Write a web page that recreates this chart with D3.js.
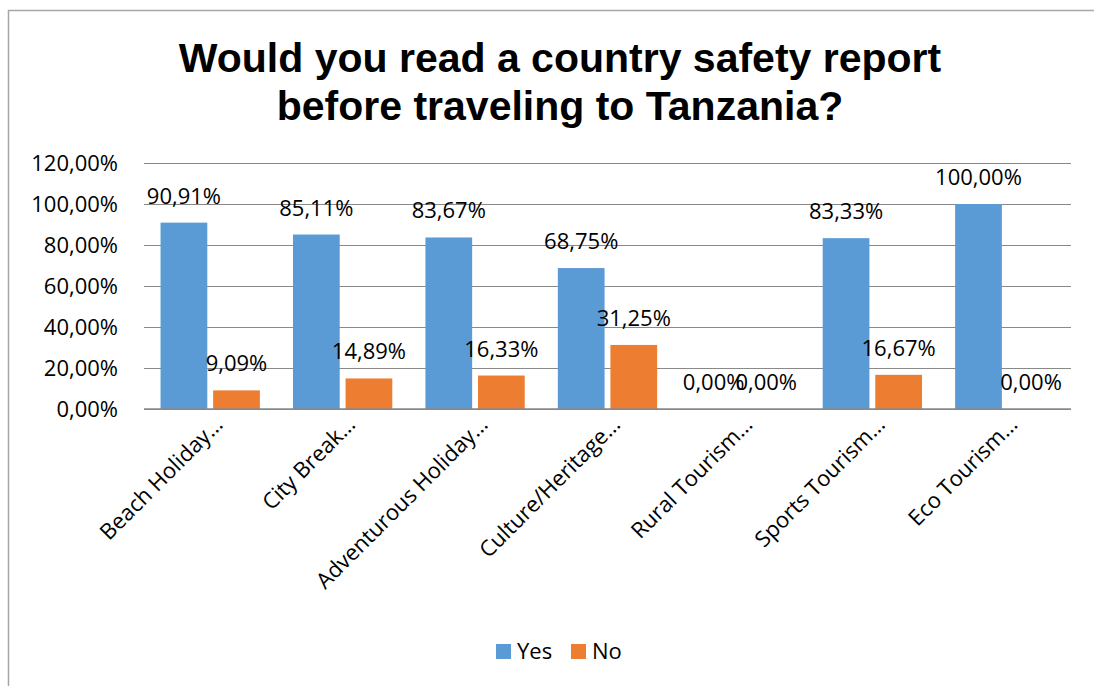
<!DOCTYPE html>
<html>
<head>
<meta charset="utf-8">
<script src="https://cdn.jsdelivr.net/npm/d3@7"></script>
<style>
    body { margin: 0; background: #fff; overflow: hidden; }
    svg { display: block; }
    text { font-family: "Open Sans", "Noto Sans", sans-serif; fill: #000; }
</style>
</head>
<body>
<div id="chart"></div>
<script>
// Data
const categories = ["Beach Holiday…", "City Break…", "Adventurous Holiday…", "Culture/Heritage…",
                    "Rural Tourism…", "Sports Tourism…", "Eco Tourism…"];
const seriesNames = ["Yes", "No"];
const yesValues = [90.91, 85.11, 83.67, 68.75, 0, 83.33, 100];
const noValues = [9.09, 14.89, 16.33, 31.25, 0, 16.67, 0];
const yTicks = [0, 20, 40, 60, 80, 100, 120];
const titleLines = ["Would you read a country safety report", "before traveling to Tanzania?"];

const colors = { Yes: "#5b9bd5", No: "#ed7d31" };
const fmt = v => v.toFixed(2).replace(".", ",") + "%";

const W = 1094, H = 686;
const plot = { left: 144, right: 1071, top: 163, bottom: 409 };

const svg = d3.select("#chart").append("svg")
    .attr("width", W)
    .attr("height", H);

// Chart frame: only top and left edges are visible in the reference
svg.append("path")
    .attr("d", `M8.5,${H}V10.5H${W}`)
    .attr("fill", "none")
    .attr("stroke", "#a6a6a6")
    .attr("stroke-width", 1.5);

// Title
svg.append("text")
    .attr("text-anchor", "middle")
    .style("font-family", "'Liberation Sans', Arial, sans-serif")
    .style("font-weight", "bold")
    .style("font-size", "41px")
    .selectAll("tspan")
    .data(titleLines)
    .join("tspan")
    .attr("x", 560)
    .attr("y", (d, i) => 72 + i * 48)
    .text(d => d);

// Scales
const x0 = d3.scaleBand()
    .domain(categories)
    .range([plot.left, plot.right])
    .paddingInner(0.75 / 3)
    .paddingOuter(0.75 / 6);

const x1 = d3.scaleBand()
    .domain(seriesNames)
    .range([0, x0.bandwidth()])
    .paddingInner(0.25 / 2.25);

const y = d3.scaleLinear()
    .domain([0, 120])
    .range([plot.bottom, plot.top]);

// Gridlines + y labels
const yAxis = svg.append("g")
    .attr("transform", `translate(${plot.left},0)`)
    .call(d3.axisLeft(y).tickValues(yTicks).tickFormat(fmt).tickSize(-(plot.right - plot.left)).tickPadding(26));
yAxis.select(".domain").remove();
yAxis.selectAll(".tick line").attr("stroke", "#898989").attr("stroke-width", 1.2);
yAxis.selectAll(".tick text")
    .style("font-size", "22px")
    .attr("fill", "#000");

// Bars
const groups = svg.append("g")
    .selectAll("g")
    .data(categories.map((c, i) => ({ cat: c, vals: [
        { key: "Yes", value: yesValues[i] },
        { key: "No", value: noValues[i] }
    ] })))
    .join("g")
    .attr("transform", d => `translate(${x0(d.cat)},0)`);

groups.selectAll("rect")
    .data(d => d.vals)
    .join("rect")
    .attr("x", d => x1(d.key))
    .attr("y", d => y(d.value))
    .attr("width", x1.bandwidth())
    .attr("height", d => y(0) - y(d.value))
    .attr("fill", d => colors[d.key]);

// Data labels (the two 0,00% labels overlap in the reference too)
groups.selectAll("text.lbl")
    .data(d => d.vals)
    .join("text")
    .attr("class", "lbl")
    .attr("text-anchor", "middle")
    .attr("x", d => x1(d.key) + x1.bandwidth() / 2)
    .attr("y", d => y(d.value) - 19)
    .style("font-size", "22px")
    .text(d => fmt(d.value));

// Baseline axis
svg.append("line")
    .attr("x1", plot.left).attr("x2", plot.right)
    .attr("y1", y(0)).attr("y2", y(0))
    .attr("stroke", "#898989")
    .attr("stroke-width", 1.5);

// Category labels, rotated
svg.append("g")
    .selectAll("text")
    .data(categories)
    .join("text")
    .attr("text-anchor", "end")
    .attr("transform", d => `translate(${x0(d) + x0.bandwidth() / 2 + 14},${plot.bottom + 17}) rotate(-45)`)
    .style("font-size", "22px")
    .text(d => d);

// Legend
const legend = svg.append("g")
    .selectAll("g")
    .data(seriesNames)
    .join("g")
    .attr("transform", (d, i) => `translate(${496 + i * 75},644)`);

legend.append("rect")
    .attr("width", 15).attr("height", 15)
    .attr("fill", d => colors[d]);

legend.append("text")
    .attr("x", 21).attr("y", 15)
    .style("font-size", "22px")
    .text(d => d);
</script>
</body>
</html>
